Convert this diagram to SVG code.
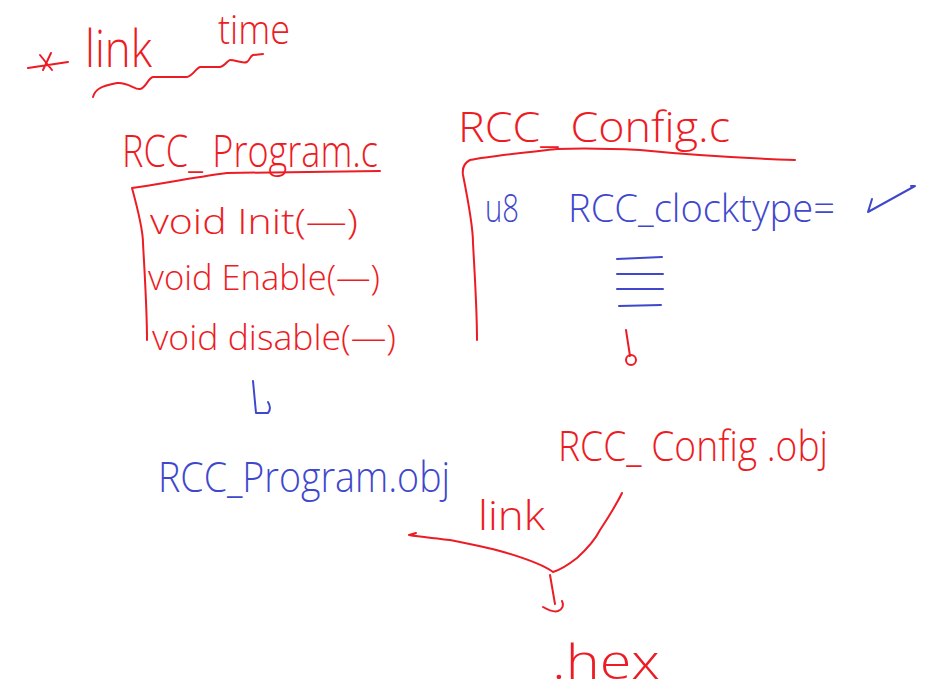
<svg xmlns="http://www.w3.org/2000/svg" width="925" height="693" viewBox="0 0 925 693">
<style>
.r{fill:#ED1C24}
.b{fill:#3F48CC}
text{font-family:"Open Sans","Liberation Sans",sans-serif;font-weight:300}
.sr{fill:none;stroke:#ED1C24;stroke-width:2;stroke-linecap:round;stroke-linejoin:round}
.sb{fill:none;stroke:#3F48CC;stroke-width:2;stroke-linecap:round;stroke-linejoin:round}
</style>
<rect width="925" height="693" fill="#fff"/>
<g id="title">
<path class="sr" d="M28,68 L68,62 M40,55 L52,70 M51,53 L43,70"/>
<text class="r" x="85" y="67" font-size="52" textLength="67" lengthAdjust="spacingAndGlyphs">link</text>
<text class="r" x="218" y="44" font-size="40" textLength="72" lengthAdjust="spacingAndGlyphs">time</text>
<path class="sr" d="M93,97 C95,90 100,86 117,83 C128,82 135,90 140,89 C146,88 148,78 153,77 L187,77 C193,76 196,68 200,67 L220,67 C225,66 228,60 230,60 C236,60 242,64 247,62 C250,60 250,56 253,55 L263,54"/>
</g>
<g id="rcc-program-c">
<text class="r" x="122" y="167" font-size="44" textLength="256" lengthAdjust="spacingAndGlyphs">RCC_ Program.c</text>
<path class="sr" d="M380,171 C320,172 260,173 227,173 C190,178 160,184 132,188 C138,210 143,230 143,243 C145,280 147,310 147,340"/>
<text class="r" x="150" y="234" font-size="34" textLength="208" lengthAdjust="spacingAndGlyphs">void Init(—)</text>
<text class="r" x="148" y="290" font-size="34" textLength="232" lengthAdjust="spacingAndGlyphs">void Enable(—)</text>
<text class="r" x="152" y="350" font-size="34" textLength="244" lengthAdjust="spacingAndGlyphs">void disable(—)</text>
</g>
<g id="rcc-config-c">
<text class="r" x="458" y="142" font-size="42" textLength="272" lengthAdjust="spacingAndGlyphs">RCC_ Config.c</text>
<path class="sr" d="M795,160 C740,158 690,155 640,150 C600,148 580,148 557,149 C520,153 490,156 470,160 C464,163 462,168 463,175 C468,200 473,225 473,243 C475,280 477,310 477,340"/>
<text class="b" x="485" y="222" font-size="38" textLength="34" lengthAdjust="spacingAndGlyphs">u8</text>
<text class="b" x="568" y="222" font-size="38" textLength="267" lengthAdjust="spacingAndGlyphs">RCC_clocktype=</text>
<path class="sb" d="M617,259 L662,257 M617,274 L663,274 M617,289 L663,289 M619,306 L661,305"/>
</g>
<g id="rcc-program-obj">
<text class="b" x="158" y="492" font-size="42" textLength="292" lengthAdjust="spacingAndGlyphs">RCC_Program.obj</text>
</g>
<g id="rcc-config-obj">
<text class="r" x="558" y="461" font-size="42" textLength="270" lengthAdjust="spacingAndGlyphs">RCC_ Config .obj</text>
</g>
<g id="hex">
<text class="r" x="552" y="679" font-size="48" textLength="108" lengthAdjust="spacingAndGlyphs">.hex</text>
</g>
<g id="connectors">
<path class="sb" d="M253,381 L256,413 L268,413 C271,410 270,405 268,402"/>
<path class="sb" d="M872,199 L868,212 L915,186 L911,186"/>
<path class="sr" d="M626,330 L630,356"/>
<circle class="sr" cx="631" cy="360" r="5"/>
<path class="sr" d="M409,535 L416,533 M409,535 C420,537 435,538 450,540 C475,545 495,549 507,553 C530,560 545,566 553,572 C560,570 568,565 577,558 C588,548 595,540 600,530 C610,515 616,505 622,493 L619,499"/>
<text class="r" x="478" y="530" font-size="40" textLength="67" lengthAdjust="spacingAndGlyphs">link</text>
<path class="sr" d="M550,575 L555,604 M543,607 C550,611 555,612 558,611 C563,609 564,605 562,601"/>
</g>
</svg>
